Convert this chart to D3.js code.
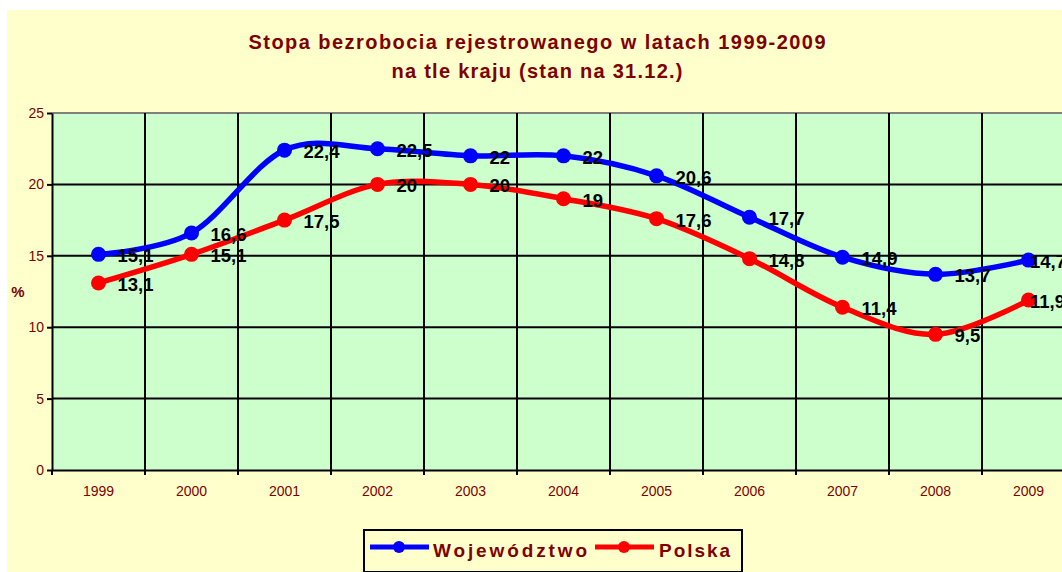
<!DOCTYPE html>
<html>
<head>
<meta charset="utf-8">
<script src="https://cdn.jsdelivr.net/npm/d3@7"></script>
<style>
  html, body { margin: 0; padding: 0; background: #ffffff; }
  svg { display: block; }
  text { font-family: "Liberation Sans", Arial, sans-serif; }
</style>
</head>
<body>
<svg id="chart" width="1062" height="572"></svg>
<script>
// Registered unemployment rate, region vs. country (as of 31 December)
const years = ["1999", "2000", "2001", "2002", "2003", "2004", "2005", "2006", "2007", "2008", "2009"];
const wojewodztwo = [15.1, 16.6, 22.4, 22.5, 22, 22, 20.6, 17.7, 14.9, 13.7, 14.7];
const polska = [13.1, 15.1, 17.5, 20, 20, 19, 17.6, 14.8, 11.4, 9.5, 11.9];
const yTicks = [0, 5, 10, 15, 20, 25];
const seriesNames = ["Województwo", "Polska"];
const titleLines = ["Stopa bezrobocia rejestrowanego w latach 1999-2009", "na tle kraju (stan na 31.12.)"];

const colors = { "Województwo": "#0000ff", "Polska": "#ff0000" };
const darkRed = "#800000";

const svg = d3.select("#chart");

// Chart area background
svg.append("rect").attr("x", 7).attr("y", 10).attr("width", 1062 - 7).attr("height", 572 - 10)
  .attr("fill", "#ffffcc");

const plot = { left: 52, top: 113, right: 1075, bottom: 470 };

const x = d3.scaleBand().domain(years).range([plot.left, plot.right]).padding(0);
const y = d3.scaleLinear().domain([0, 25]).range([plot.bottom, plot.top]);
const cx = i => x(years[i]) + x.bandwidth() / 2;

// Plot area
svg.append("rect")
  .attr("x", plot.left).attr("y", plot.top)
  .attr("width", plot.right - plot.left).attr("height", plot.bottom - plot.top)
  .attr("fill", "#ccffcc");

// Horizontal gridlines
svg.append("g").selectAll("line")
  .data(yTicks.filter(v => v > 0 && v < 25))
  .join("line")
  .attr("x1", plot.left).attr("x2", plot.right)
  .attr("y1", d => y(d)).attr("y2", d => y(d))
  .attr("stroke", "#000").attr("stroke-width", 2);

// Top border of the plot area
svg.append("line")
  .attr("x1", plot.left).attr("x2", plot.right)
  .attr("y1", y(25)).attr("y2", y(25))
  .attr("stroke", "#808080").attr("stroke-width", 2);

// Vertical gridlines between categories
const boundaries = years.slice(1).map(d => x(d)).concat([plot.right]);
svg.append("g").selectAll("line")
  .data(boundaries)
  .join("line")
  .attr("x1", d => d).attr("x2", d => d)
  .attr("y1", plot.top).attr("y2", plot.bottom)
  .attr("stroke", "#000").attr("stroke-width", 2);

// Y axis
const yAxis = svg.append("g")
  .attr("transform", `translate(${plot.left},0)`)
  .call(d3.axisLeft(y).tickValues(yTicks).tickSize(5).tickPadding(3).tickSizeOuter(0));
yAxis.select(".domain").attr("stroke", "#000").attr("stroke-width", 2);
yAxis.selectAll(".tick line").attr("stroke", "#000").attr("stroke-width", 2);
yAxis.selectAll(".tick text").attr("fill", darkRed).attr("font-size", 14)
  .style("font-family", "'Liberation Sans', Arial, sans-serif");

// X axis (labels centred in categories, tick marks at category edges)
const xAxis = svg.append("g")
  .attr("transform", `translate(0,${plot.bottom})`)
  .call(d3.axisBottom(x).tickSize(0).tickPadding(16).tickSizeOuter(0));
xAxis.select(".domain").attr("stroke", "#000").attr("stroke-width", 2);
xAxis.selectAll(".tick text").attr("fill", darkRed).attr("font-size", 14)
  .style("font-family", "'Liberation Sans', Arial, sans-serif");
xAxis.selectAll(".edge")
  .data([plot.left].concat(boundaries))
  .join("line")
  .attr("class", "edge")
  .attr("x1", d => d).attr("x2", d => d)
  .attr("y1", 0).attr("y2", 5)
  .attr("stroke", "#000").attr("stroke-width", 2);

// Axis title
svg.append("text")
  .attr("x", 18).attr("y", 297)
  .attr("text-anchor", "middle")
  .attr("font-size", 15).attr("font-weight", "bold")
  .attr("fill", darkRed)
  .text("%");

// Chart title
const titleWidths = [577, 291];
svg.append("g").selectAll("text")
  .data(titleLines)
  .join("text")
  .attr("x", 537).attr("y", (d, i) => 49 + i * 29)
  .attr("text-anchor", "middle")
  .attr("font-size", 20).attr("font-weight", "bold")
  .attr("fill", darkRed)
  .attr("textLength", (d, i) => titleWidths[i]).attr("lengthAdjust", "spacing")
  .text(d => d);

// Series
const series = [
  { name: seriesNames[0], values: wojewodztwo },
  { name: seriesNames[1], values: polska }
];

const line = d3.line()
  .x((d, i) => cx(i))
  .y(d => y(d))
  .curve(d3.curveCardinal.tension(0));

// Lines and markers: red drawn first so blue sits on top
series.slice().reverse().forEach(s => {
  const g = svg.append("g");
  g.append("path")
    .attr("d", line(s.values))
    .attr("fill", "none")
    .attr("stroke", colors[s.name])
    .attr("stroke-width", 5.5)
    .attr("stroke-linejoin", "round");
  g.selectAll("circle")
    .data(s.values)
    .join("circle")
    .attr("cx", (d, i) => cx(i))
    .attr("cy", d => y(d))
    .attr("r", 7.5)
    .attr("fill", colors[s.name]);
});

// Value labels (kept from running past the chart's right edge)
series.forEach(s => {
  svg.append("g").selectAll("text")
    .data(s.values)
    .join("text")
    .attr("x", (d, i) => Math.min(cx(i) + 19, 1030))
    .attr("y", d => y(d) + 8)
    .attr("font-size", 18.5).attr("font-weight", "bold")
    .attr("fill", "#000")
    .text(d => String(d).replace(".", ","));
});

// Legend
const legend = svg.append("g");
legend.append("rect")
  .attr("x", 364).attr("y", 530).attr("width", 378).attr("height", 42)
  .attr("fill", "#ffffcc").attr("stroke", "#000").attr("stroke-width", 2);

const legendItems = [
  { name: seriesNames[0], x0: 370, tx: 433, tw: 154 },
  { name: seriesNames[1], x0: 595, tx: 659, tw: 71 }
];
legendItems.forEach(it => {
  legend.append("line")
    .attr("x1", it.x0).attr("x2", it.x0 + 59)
    .attr("y1", 547).attr("y2", 547)
    .attr("stroke", colors[it.name]).attr("stroke-width", 5);
  legend.append("circle")
    .attr("cx", it.x0 + 29).attr("cy", 547).attr("r", 6)
    .attr("fill", colors[it.name]);
  legend.append("text")
    .attr("x", it.tx).attr("y", 557)
    .attr("font-size", 19).attr("font-weight", "bold")
    .attr("fill", darkRed)
    .attr("textLength", it.tw).attr("lengthAdjust", "spacing")
    .text(it.name);
});
</script>
</body>
</html>
